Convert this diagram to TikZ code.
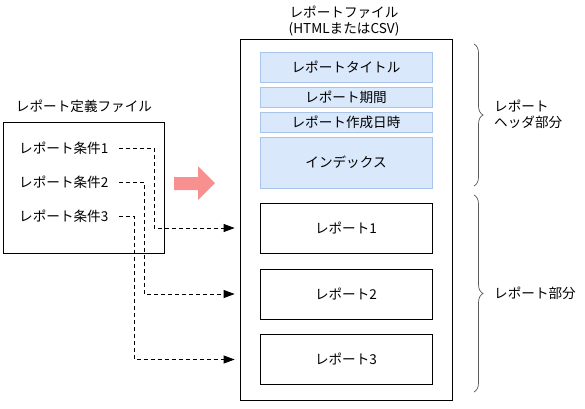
\documentclass[tikz,border=0pt]{standalone}
\usepackage{fontspec}
\setmainfont{Noto Sans CJK JP}
\usetikzlibrary{arrows.meta,decorations.pathreplacing}
\definecolor{bluefill}{HTML}{DAE8FC}
\definecolor{blueline}{HTML}{A9C4EB}
\definecolor{pinkarrow}{HTML}{F8908F}
\tikzset{
  txt/.style={font=\fontsize{13.6}{16}\selectfont, inner sep=0pt},
  bluebox/.style={draw=blueline, fill=bluefill, line width=0.8pt, minimum width=172pt, font=\fontsize{13.6}{16}\selectfont, inner sep=0pt},
  whitebox/.style={draw=black, line width=0.8pt, minimum width=172pt, minimum height=50pt, font=\fontsize{13.6}{16}\selectfont, inner sep=0pt},
  dashline/.style={draw=black, line width=0.8pt, dash pattern=on 4pt off 3pt, -{Triangle[length=11pt,width=8pt]}},
  bracestyle/.style={draw=black!65, line width=0.7pt, decorate, decoration={brace, amplitude=9pt, aspect=0.5}},
}
\begin{document}
\begin{tikzpicture}[x=1pt,y=-1pt]
\useasboundingbox (0,0) rectangle (585,408);
% left definition file
\node[txt] (deftitle) at (84,106) {レポート定義ファイル};
\node[draw=black, line width=0.8pt, minimum width=161pt, minimum height=131pt, inner sep=0pt] (defbox) at (83.5,187.5) {};
\node[txt, anchor=west] (c1) at (19,148) {レポート条件1};
\node[txt, anchor=west] (c2) at (19,182) {レポート条件2};
\node[txt, anchor=west] (c3) at (19,216) {レポート条件3};
% pink arrow
\fill[pinkarrow] (174,177) -- (198,177) -- (198,166) -- (215,183) -- (198,200) -- (198,190) -- (174,190) -- cycle;
% report file
\node[txt, align=center] (filetitle) at (344,21) {レポートファイル\\(HTMLまたはCSV)};
\node[draw=black, line width=0.8pt, minimum width=212pt, minimum height=361pt, inner sep=0pt] (file) at (346,219.5) {};
\node[bluebox, minimum height=30pt] (b1) at (346,67) {レポートタイトル};
\node[bluebox, minimum height=20pt] (b2) at (346,97) {レポート期間};
\node[bluebox, minimum height=20pt] (b3) at (346,122) {レポート作成日時};
\node[bluebox, minimum height=51pt] (b4) at (346,162.5) {インデックス};
\node[whitebox] (r1) at (346,228) {レポート1};
\node[whitebox] (r2) at (346,294) {レポート2};
\node[whitebox] (r3) at (346,359.5) {レポート3};
% connectors
\coordinate (k1) at (154,0);
\coordinate (k2) at (144,0);
\coordinate (k3) at (134,0);
\draw[dashline, shorten >=25pt] ([xshift=100pt]c1.west) -| (k1 |- r1) -- (r1.west);
\draw[dashline, shorten >=25pt] ([xshift=100pt]c2.west) -| (k2 |- r2) -- (r2.west);
\draw[dashline, shorten >=25pt] ([xshift=100pt]c3.west) -| (k3 |- r3) -- (r3.west);
% braces
\coordinate (h1) at (474,44);
\coordinate (h2) at (474,186);
\coordinate (p1) at (474,195);
\coordinate (p2) at (474,392);
\draw[bracestyle] (h1) -- (h2);
\draw[bracestyle] (p1) -- (p2);
\node[txt, anchor=west, align=left] (hlabel) at (494,114.5) {レポート\\ヘッダ部分};
\node[txt, anchor=west] (plabel) at (494,293.5) {レポート部分};
\end{tikzpicture}
\end{document}
